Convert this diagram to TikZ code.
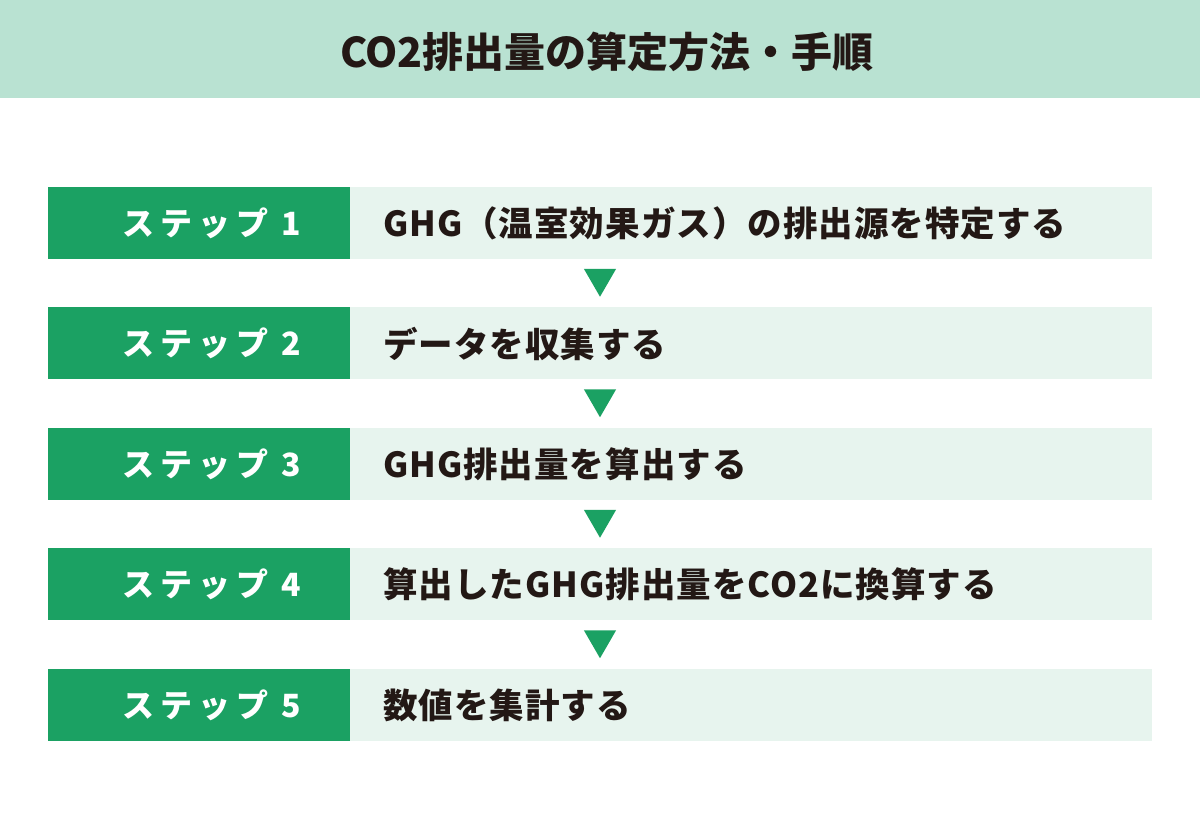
\documentclass[tikz,border=0pt]{standalone}
\usepackage{fontspec}
\setmainfont{Noto Sans CJK JP}
\newfontfamily\stepfont{Noto Sans CJK JP}[LetterSpace=19]
\newfontfamily\descfont{Noto Sans CJK JP}[LetterSpace=3]
\usetikzlibrary{shapes.geometric}
\usetikzlibrary{positioning}
\definecolor{stepgreen}{RGB}{27,161,99}
\definecolor{paleteal}{RGB}{231,244,238}
\definecolor{headmint}{RGB}{185,226,210}
\definecolor{inkdark}{RGB}{35,24,21}
\tikzset{x=1pt, y=1pt, node distance=48.5pt, outer sep=0pt, inner sep=0pt}
\tikzstyle{header} = [fill=headmint, minimum width=1200pt, minimum height=98pt]
\tikzstyle{title} = [text=inkdark, font=\fontsize{41}{41}\selectfont\bfseries]
\tikzstyle{stepbox} = [fill=stepgreen, minimum width=302pt, minimum height=72pt]
\tikzstyle{steplabel} = [text=white, anchor=west, font=\fontsize{32}{32}\stepfont\bfseries]
\tikzstyle{desc} = [fill=paleteal, minimum height=72pt, text width=736pt, inner xsep=33pt, align=left, text=inkdark, font=\fontsize{34.5}{34.5}\descfont\bfseries]
\tikzstyle{arrowtri} = [fill=stepgreen, regular polygon, regular polygon sides=3, shape border rotate=180, minimum size=37pt]

\begin{document}
\begin{tikzpicture}
	\useasboundingbox (0,0) rectangle (1200,830);

	\node [header] (header) at (600,781) {};
	\node [title] (title) at ([xshift=7pt, yshift=-2.5pt]header.center) {CO2排出量の算定方法・手順};

	% step boxes
	\node [stepbox] (step1) at (199,607) {};
	\node [stepbox, below=of step1] (step2) {};
	\node [stepbox, below=of step2] (step3) {};
	\node [stepbox, below=of step3] (step4) {};
	\node [stepbox, below=of step4] (step5) {};

	\node [steplabel, right=74pt of step1.west] (lab1) {ステップ 1};
	\node [steplabel, right=74pt of step2.west] (lab2) {ステップ 2};
	\node [steplabel, right=74pt of step3.west] (lab3) {ステップ 3};
	\node [steplabel, right=74pt of step4.west] (lab4) {ステップ 4};
	\node [steplabel, right=74pt of step5.west] (lab5) {ステップ 5};

	% descriptions
	\node [desc, right=0pt of step1] (desc1) {GHG（温室効果ガス）の排出源を特定する};
	\node [desc, right=0pt of step2] (desc2) {データを収集する};
	\node [desc, right=0pt of step3] (desc3) {GHG排出量を算出する};
	\node [desc, right=0pt of step4] (desc4) {算出したGHG排出量をCO2に換算する};
	\node [desc, right=0pt of step5] (desc5) {数値を集計する};

	% arrows between steps
	\node [arrowtri, below=10pt of desc1, xshift=-151pt] (tri1) {};
	\node [arrowtri, below=10pt of desc2, xshift=-151pt] (tri2) {};
	\node [arrowtri, below=10pt of desc3, xshift=-151pt] (tri3) {};
	\node [arrowtri, below=10pt of desc4, xshift=-151pt] (tri4) {};
\end{tikzpicture}
\end{document}
